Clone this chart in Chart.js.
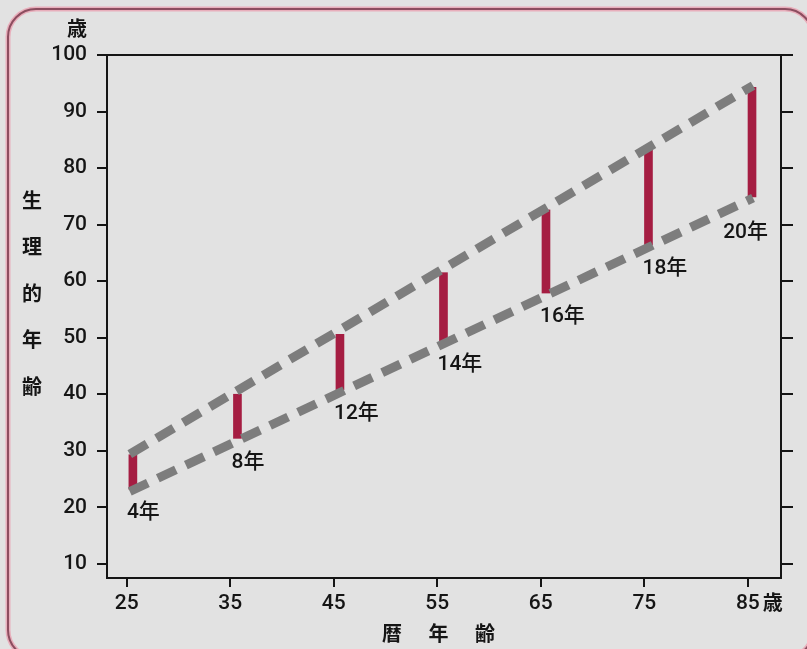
<!DOCTYPE html>
<html>
<head>
<meta charset="utf-8">
<script src="https://cdn.jsdelivr.net/npm/chart.js@4.4.1/dist/chart.umd.min.js"></script>
<style>
  html, body { margin: 0; padding: 0; background: #e2e2e2; }
  #wrap { position: relative; width: 807px; height: 649px; }
</style>
</head>
<body>
<div id="wrap"><canvas id="chart" width="807" height="649"></canvas></div>
<script>
// calendar age (x) of each bar, physiological age range (y)
const calendarAge = [25.6, 35.7, 45.6, 55.6, 65.5, 75.4, 85.4];
const bioLow = [23.2, 32.2, 40.8, 49.4, 57.9, 66.4, 74.9];
const bioHigh = [29.3, 40.0, 50.6, 61.5, 72.6, 83.4, 94.3];
const gapLabels = ["4年", "8年", "12年", "14年", "16年", "18年", "20年"];

// dashed trend lines (end points)
const lineX = [25.3, 85.5];
const upperY = [29.4, 94.6];
const lowerY = [22.8, 74.7];

const xTicks = [25, 35, 45, 55, 65, 75, 85];
const yTicks = [10, 20, 30, 40, 50, 60, 70, 80, 90, 100];

const yTitle = ["生", "理", "的", "年", "齢"];
const xTitle = ["暦", "年", "齢"];

const INK = "#151515";
const LATIN = 'Roboto, "Liberation Sans", Arial, "Noto Sans CJK JP", sans-serif';
const CJK = '"Noto Sans CJK JP", sans-serif';

const frameAndText = {
  id: "frameAndText",
  beforeDraw(chart) {
    const ctx = chart.ctx;
    ctx.save();
    ctx.beginPath();
    ctx.roundRect(8, 9, 805, 649, 28);
    ctx.strokeStyle = "#e8aebb";
    ctx.lineWidth = 5;
    ctx.stroke();
    ctx.strokeStyle = "#8c4d5f";
    ctx.lineWidth = 2;
    ctx.stroke();
    ctx.restore();
  },
  afterDraw(chart) {
    const ctx = chart.ctx;
    const xs = chart.scales.x;
    const ys = chart.scales.y;
    ctx.save();
    ctx.fillStyle = INK;
    ctx.textBaseline = "middle";
    ctx.textAlign = "center";

    // unit labels
    ctx.font = "bold 20px " + CJK;
    ctx.fillText("歳", 77, 28);
    ctx.fillText("歳", xs.getPixelForValue(85) + 25, 602);

    // axis titles
    yTitle.forEach((ch, i) => ctx.fillText(ch, 32, 200 + i * 46.5));
    xTitle.forEach((ch, i) => ctx.fillText(ch, 392 + i * 46.5, 633));

    // gap labels under each bar
    ctx.font = "500 21px " + LATIN;
    const meta = chart.getDatasetMeta(2);
    meta.data.forEach((bar, i) => {
      const bottom = ys.getPixelForValue(bioLow[i]);
      if (i === gapLabels.length - 1) {
        ctx.textAlign = "right";
        ctx.fillText(gapLabels[i], bar.x + 16, bottom + 36);
      } else {
        ctx.textAlign = "left";
        ctx.fillText(gapLabels[i], bar.x - 6, bottom + 24);
      }
    });
    ctx.restore();
  }
};

const axisLine = { color: INK, width: 2 };
const tickFont = { family: LATIN, size: 21, weight: "500" };

new Chart(document.getElementById("chart"), {
  type: "bar",
  data: {
    datasets: [
      {
        type: "line",
        data: lineX.map((x, i) => ({ x: x, y: upperY[i] })),
        borderColor: "#7d7d7d",
        borderWidth: 9,
        borderDash: [20, 11],
        borderCapStyle: "butt",
        pointRadius: 0,
        order: 1
      },
      {
        type: "line",
        data: lineX.map((x, i) => ({ x: x, y: lowerY[i] })),
        borderColor: "#7d7d7d",
        borderWidth: 9,
        borderDash: [20, 11],
        borderCapStyle: "butt",
        pointRadius: 0,
        order: 1
      },
      {
        type: "bar",
        data: calendarAge.map((x, i) => ({ x: x, y: [bioLow[i], bioHigh[i]] })),
        backgroundColor: "#a51d42",
        barThickness: 8,
        order: 2
      }
    ]
  },
  options: {
    responsive: false,
    animation: false,
    devicePixelRatio: 1,
    layout: { padding: { top: 55 } },
    plugins: { legend: { display: false }, tooltip: { enabled: false } },
    scales: {
      x: {
        type: "linear",
        position: "bottom",
        min: 23.1,
        max: 88.2,
        offset: false,
        afterBuildTicks: (s) => { s.ticks = xTicks.map((v) => ({ value: v })); },
        afterFit: (s) => { s.height = 71; },
        grid: { drawOnChartArea: false, offset: false, tickLength: 9, color: INK, lineWidth: 2 },
        border: axisLine,
        ticks: { color: INK, font: tickFont, padding: 4, maxRotation: 0, autoSkip: false }
      },
      x2: {
        type: "linear",
        position: "top",
        min: 23.1,
        max: 88.2,
        afterFit: (s) => { s.height = 0; },
        grid: { display: false },
        border: axisLine,
        ticks: { display: false }
      },
      y: {
        position: "left",
        min: 7.5,
        max: 100,
        afterBuildTicks: (s) => { s.ticks = yTicks.map((v) => ({ value: v })); },
        afterFit: (s) => { s.width = 107; },
        grid: { drawOnChartArea: false, tickLength: 10, color: INK, lineWidth: 2 },
        border: axisLine,
        ticks: { color: INK, font: tickFont, padding: 10 }
      },
      y2: {
        position: "right",
        min: 7.5,
        max: 100,
        afterBuildTicks: (s) => { s.ticks = yTicks.map((v) => ({ value: v })); },
        afterFit: (s) => { s.width = 26; },
        grid: { drawOnChartArea: false, tickLength: 12, color: INK, lineWidth: 2 },
        border: axisLine,
        ticks: { display: false }
      }
    }
  },
  plugins: [frameAndText]
});
</script>
</body>
</html>
